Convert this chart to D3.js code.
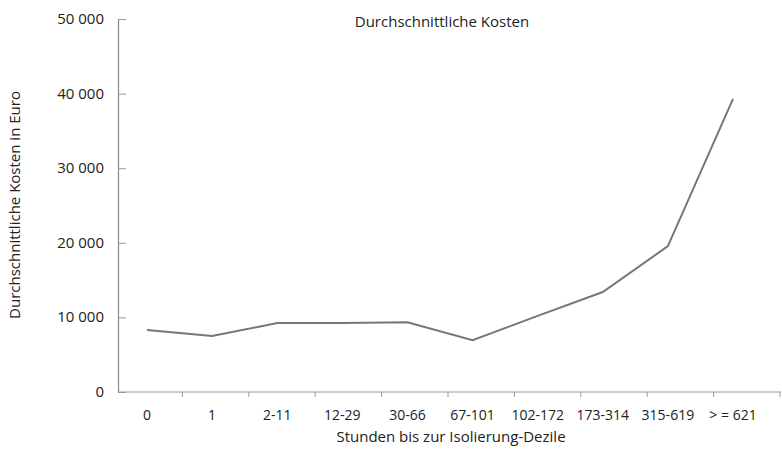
<!DOCTYPE html>
<html>
<head>
<meta charset="utf-8">
<script src="https://cdn.jsdelivr.net/npm/d3@7"></script>
<style>
  body { margin: 0; background: #fff; }
  text { font-family: "Open Sans", "Noto Sans", sans-serif; fill: #222; }
</style>
</head>
<body>
<div id="content"></div>
<script>
// datas
const categories = ["0", "1", "2-11", "12-29", "30-66", "67-101", "102-172", "173-314", "315-619", "> = 621"];
const kosten = [8300, 7500, 9250, 9250, 9350, 6950, 10200, 13400, 19550, 39300];
const yTicks = [0, 10000, 20000, 30000, 40000, 50000];

// view
const w = 782;
const h = 464;

const svg = d3.select("#content")
  .append("svg")
  .attr("width", w)
  .attr("height", h);

// scales
const x = d3.scalePoint().domain(categories).range([147, 733]);
const band = d3.scaleBand().domain(categories).range([116, 780]);
const y = d3.scaleLinear().domain([0, 50000]).range([392, 19]);

const fmt = d => d3.format(",")(d).replace(/,/g, " ");

// y axis
const yAxis = svg.append("g")
  .attr("transform", "translate(118,0)")
  .call(d3.axisRight(y).tickValues(yTicks).tickSize(8).tickFormat(""));
yAxis.select(".domain").attr("stroke", "#888").attr("stroke-width", 1.2);
yAxis.selectAll(".tick line").attr("stroke", "#999");

svg.selectAll(".ylab")
  .data(yTicks)
  .enter()
  .append("text")
  .attr("class", "ylab")
  .attr("x", 104)
  .attr("y", d => y(d) + 5)
  .attr("text-anchor", "end")
  .style("font-size", "15px")
  .text(fmt);

// x axis
const xAxis = svg.append("g")
  .attr("transform", "translate(0,392)")
  .call(d3.axisBottom(band).tickSize(0).tickFormat(""));
xAxis.select(".domain").attr("stroke", "#999").attr("stroke-width", 1.2)
  .attr("d", "M118,0H781");
xAxis.selectAll(".tick").remove();

svg.selectAll(".xtick")
  .data(categories)
  .enter()
  .append("line")
  .attr("class", "xtick")
  .attr("x1", d => band(d) + band.bandwidth())
  .attr("x2", d => band(d) + band.bandwidth())
  .attr("y1", 392)
  .attr("y2", 397)
  .attr("stroke", "#999");

svg.selectAll(".xlab")
  .data(categories)
  .enter()
  .append("text")
  .attr("class", "xlab")
  .attr("x", d => x(d))
  .attr("y", 420)
  .attr("text-anchor", "middle")
  .style("font-size", "14px")
  .text(d => d);

// line
const line = d3.line()
  .x((d, i) => x(categories[i]))
  .y(d => y(d));

svg.append("path")
  .datum(kosten)
  .attr("d", line)
  .attr("fill", "none")
  .attr("stroke", "#777")
  .attr("stroke-width", 2);

// titles
svg.append("text")
  .attr("x", 442)
  .attr("y", 27)
  .attr("text-anchor", "middle")
  .style("font-size", "15px")
  .text("Durchschnittliche Kosten");

svg.append("text")
  .attr("x", 451)
  .attr("y", 442)
  .attr("text-anchor", "middle")
  .style("font-size", "15px")
  .text("Stunden bis zur Isolierung-Dezile");

svg.append("text")
  .attr("transform", "translate(20,205) rotate(-90)")
  .attr("text-anchor", "middle")
  .style("font-size", "15px")
  .text("Durchschnittliche Kosten in Euro");
</script>
</body>
</html>
